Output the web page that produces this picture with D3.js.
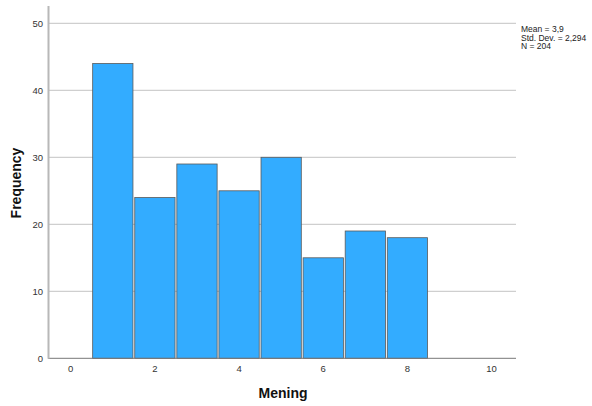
<!DOCTYPE html>
<html><head><meta charset="utf-8">
<script src="https://cdn.jsdelivr.net/npm/d3@7"></script>
<style>body{margin:0;background:#fff}svg{display:block}text{font-family:"Liberation Sans",Arial,sans-serif}</style>
</head><body>
<svg id="c" width="592" height="406"></svg>
<script>
const binStarts = [0.5,1.5,2.5,3.5,4.5,5.5,6.5,7.5];
const binWidth = 1;
const frequencies = [44,24,29,25,30,15,19,18];
const xTicks = [0,2,4,6,8,10];
const yTicks = [0,10,20,30,40,50];
const stats = ["Mean = 3,9","Std. Dev. = 2,294","N = 204"];

const svg = d3.select("#c");
const x = d3.scaleLinear().domain([-0.54,10.58]).range([48,516]);
const y = d3.scaleLinear().domain([0,50]).range([358.3,23.3]);

// gridlines
svg.append("g").selectAll("line").data(yTicks.filter(d=>d>0)).join("line")
  .attr("x1",48).attr("x2",516).attr("y1",d=>y(d)).attr("y2",d=>y(d))
  .attr("stroke","#c4c4c4").attr("stroke-width",1);

// bars
svg.append("g").selectAll("rect").data(frequencies).join("rect")
  .attr("x",(d,i)=>x(binStarts[i])+0.9)
  .attr("width",(d,i)=>x(binStarts[i]+binWidth)-x(binStarts[i])-1.8)
  .attr("y",d=>y(d))
  .attr("height",d=>y(0)-y(d))
  .attr("fill","#33acff").attr("stroke","#5a5a5a").attr("stroke-width",0.8);

// x axis line
svg.append("line").attr("x1",48).attr("x2",516).attr("y1",y(0)).attr("y2",y(0))
  .attr("stroke","#777").attr("stroke-width",1);
// y axis line
svg.append("line").attr("x1",48.5).attr("x2",48.5).attr("y1",6).attr("y2",y(0)+0.5)
  .attr("stroke","#b8b8b8").attr("stroke-width",2);

// y tick labels
svg.append("g").selectAll("text").data(yTicks).join("text")
  .attr("x",43).attr("y",d=>y(d)+3.5).attr("text-anchor","end")
  .attr("font-size",9.5).attr("fill","#333").text(d=>d);
// x tick labels
svg.append("g").selectAll("text").data(xTicks).join("text")
  .attr("x",d=>x(d)).attr("y",372).attr("text-anchor","middle")
  .attr("font-size",9.5).attr("fill","#333").text(d=>d);

// axis titles
svg.append("text").attr("transform","translate(21,183) rotate(-90)")
  .attr("text-anchor","middle").attr("font-size",14).attr("font-weight","bold").attr("fill","#111").text("Frequency");
svg.append("text").attr("x",283).attr("y",398)
  .attr("text-anchor","middle").attr("font-size",14).attr("font-weight","bold").attr("fill","#111").text("Mening");

// stats
svg.append("g").selectAll("text").data(stats).join("text")
  .attr("x",521).attr("y",(d,i)=>32+i*8.7)
  .attr("font-size",8.5).attr("fill","#222").text(d=>d);
</script>
</body></html>
